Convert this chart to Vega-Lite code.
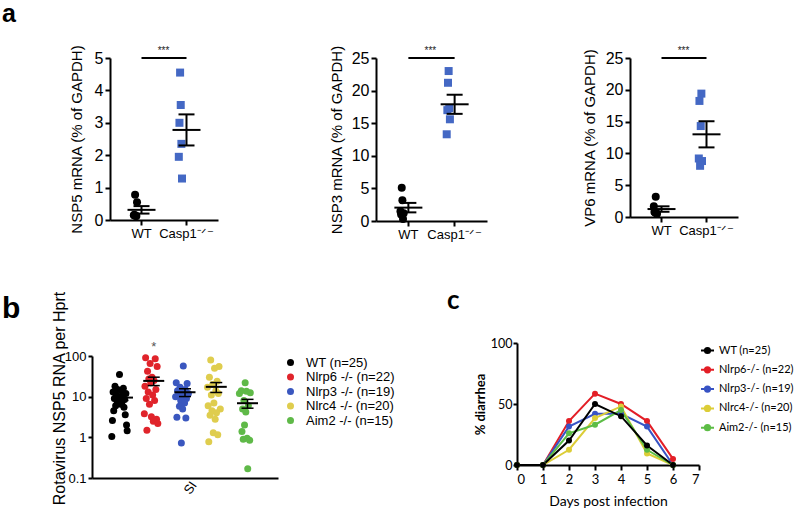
{
"$schema": "https://vega.github.io/schema/vega-lite/v6.json",
"padding": {"left": 2, "top": 2, "right": 0, "bottom": 0},
"config": {
  "view": {"stroke": null},
  "font": "Liberation Sans",
  "axis": {"grid": false, "domainColor": "#000", "domainWidth": 2, "tickColor": "#000", "tickWidth": 2, "tickSize": 5, "labelColor": "#000", "titleColor": "#000", "titleFontWeight": "normal", "labelPadding": 2},
  "title": {"fontWeight": "bold", "color": "#000", "anchor": "start"},
  "legend": {"padding": 0}
},
"datasets": {
  "a1": [
    {"g": "WT", "m": 3, "v": 0.78}, {"g": "WT", "m": 6, "v": 0.55}, {"g": "WT", "m": 1, "v": 0.15}, {"g": "WT", "m": 4, "v": 0.12}, {"g": "WT", "m": 2, "v": 0.16}, {"g": "WT", "m": 5, "v": 0.12},
    {"g": "Casp1", "m": 3, "v": 4.55}, {"g": "Casp1", "m": 4, "v": 3.55}, {"g": "Casp1", "m": 2, "v": 3.0}, {"g": "Casp1", "m": 5, "v": 2.35}, {"g": "Casp1", "m": 1, "v": 1.95}, {"g": "Casp1", "m": 6, "v": 1.28}
  ],
  "a2": [
    {"g": "WT", "m": 3, "v": 5.1}, {"g": "WT", "m": 4, "v": 3.2}, {"g": "WT", "m": 1, "v": 1.5}, {"g": "WT", "m": 6, "v": 1.2}, {"g": "WT", "m": 2, "v": 1.0}, {"g": "WT", "m": 5, "v": 0.3},
    {"g": "Casp1", "m": 4, "v": 23.0}, {"g": "Casp1", "m": 3, "v": 21.2}, {"g": "Casp1", "m": 5, "v": 17.3}, {"g": "Casp1", "m": 2, "v": 17.0}, {"g": "Casp1", "m": 6, "v": 15.6}, {"g": "Casp1", "m": 1, "v": 13.3}
  ],
  "a3": [
    {"g": "WT", "m": 4, "v": 3.2}, {"g": "WT", "m": 1, "v": 1.7}, {"g": "WT", "m": 2, "v": 0.8}, {"g": "WT", "m": 3, "v": 0.7}, {"g": "WT", "m": 5, "v": 0.6}, {"g": "WT", "m": 6, "v": 0.5},
    {"g": "Casp1", "m": 5, "v": 19.4}, {"g": "Casp1", "m": 2, "v": 18.25}, {"g": "Casp1", "m": 4, "v": 14.3}, {"g": "Casp1", "m": 1, "v": 9.2}, {"g": "Casp1", "m": 6, "v": 8.8}, {"g": "Casp1", "m": 3, "v": 8.05}
  ],
  "b": [
    {"g": "WT (n=25)", "m": 13, "v": 35}, {"g": "WT (n=25)", "m": 6, "v": 18}, {"g": "WT (n=25)", "m": 19, "v": 16}, {"g": "WT (n=25)", "m": 10, "v": 15}, {"g": "WT (n=25)", "m": 16, "v": 14},
    {"g": "WT (n=25)", "m": 3, "v": 13}, {"g": "WT (n=25)", "m": 23, "v": 12}, {"g": "WT (n=25)", "m": 8, "v": 11}, {"g": "WT (n=25)", "m": 18, "v": 10.5}, {"g": "WT (n=25)", "m": 12, "v": 10},
    {"g": "WT (n=25)", "m": 14, "v": 9.5}, {"g": "WT (n=25)", "m": 5, "v": 9}, {"g": "WT (n=25)", "m": 21, "v": 8.5}, {"g": "WT (n=25)", "m": 9, "v": 8}, {"g": "WT (n=25)", "m": 17, "v": 7.5},
    {"g": "WT (n=25)", "m": 11, "v": 7}, {"g": "WT (n=25)", "m": 15, "v": 6.5}, {"g": "WT (n=25)", "m": 7, "v": 6}, {"g": "WT (n=25)", "m": 20, "v": 5.5}, {"g": "WT (n=25)", "m": 4, "v": 4.5},
    {"g": "WT (n=25)", "m": 22, "v": 3.6}, {"g": "WT (n=25)", "m": 2, "v": 2.6}, {"g": "WT (n=25)", "m": 24, "v": 2.0}, {"g": "WT (n=25)", "m": 25, "v": 1.45}, {"g": "WT (n=25)", "m": 1, "v": 1.05},
    {"g": "Nlrp6 -/- (n=22)", "m": 5, "v": 90}, {"g": "Nlrp6 -/- (n=22)", "m": 20, "v": 85}, {"g": "Nlrp6 -/- (n=22)", "m": 12, "v": 65}, {"g": "Nlrp6 -/- (n=22)", "m": 23, "v": 55}, {"g": "Nlrp6 -/- (n=22)", "m": 8, "v": 42},
    {"g": "Nlrp6 -/- (n=22)", "m": 15, "v": 30}, {"g": "Nlrp6 -/- (n=22)", "m": 10, "v": 27}, {"g": "Nlrp6 -/- (n=22)", "m": 18, "v": 25}, {"g": "Nlrp6 -/- (n=22)", "m": 13, "v": 22}, {"g": "Nlrp6 -/- (n=22)", "m": 4, "v": 18},
    {"g": "Nlrp6 -/- (n=22)", "m": 21, "v": 15}, {"g": "Nlrp6 -/- (n=22)", "m": 9, "v": 13}, {"g": "Nlrp6 -/- (n=22)", "m": 16, "v": 11}, {"g": "Nlrp6 -/- (n=22)", "m": 6, "v": 9}, {"g": "Nlrp6 -/- (n=22)", "m": 19, "v": 8},
    {"g": "Nlrp6 -/- (n=22)", "m": 11, "v": 6.5}, {"g": "Nlrp6 -/- (n=22)", "m": 3, "v": 3.8}, {"g": "Nlrp6 -/- (n=22)", "m": 14, "v": 3.2}, {"g": "Nlrp6 -/- (n=22)", "m": 22, "v": 2.8}, {"g": "Nlrp6 -/- (n=22)", "m": 17, "v": 2.5},
    {"g": "Nlrp6 -/- (n=22)", "m": 24, "v": 2.2}, {"g": "Nlrp6 -/- (n=22)", "m": 7, "v": 1.5},
    {"g": "Nlrp3 -/- (n=19)", "m": 15, "v": 57}, {"g": "Nlrp3 -/- (n=19)", "m": 4, "v": 22}, {"g": "Nlrp3 -/- (n=19)", "m": 21, "v": 21}, {"g": "Nlrp3 -/- (n=19)", "m": 10, "v": 17}, {"g": "Nlrp3 -/- (n=19)", "m": 18, "v": 15},
    {"g": "Nlrp3 -/- (n=19)", "m": 6, "v": 14}, {"g": "Nlrp3 -/- (n=19)", "m": 13, "v": 13}, {"g": "Nlrp3 -/- (n=19)", "m": 23, "v": 12}, {"g": "Nlrp3 -/- (n=19)", "m": 8, "v": 11}, {"g": "Nlrp3 -/- (n=19)", "m": 16, "v": 10.5},
    {"g": "Nlrp3 -/- (n=19)", "m": 3, "v": 10}, {"g": "Nlrp3 -/- (n=19)", "m": 20, "v": 9}, {"g": "Nlrp3 -/- (n=19)", "m": 11, "v": 8}, {"g": "Nlrp3 -/- (n=19)", "m": 17, "v": 7}, {"g": "Nlrp3 -/- (n=19)", "m": 9, "v": 5.8},
    {"g": "Nlrp3 -/- (n=19)", "m": 14, "v": 5}, {"g": "Nlrp3 -/- (n=19)", "m": 5, "v": 3.1}, {"g": "Nlrp3 -/- (n=19)", "m": 19, "v": 3.0}, {"g": "Nlrp3 -/- (n=19)", "m": 12, "v": 0.73},
    {"g": "Nlrc4 -/- (n=20)", "m": 9, "v": 80}, {"g": "Nlrc4 -/- (n=20)", "m": 22, "v": 55}, {"g": "Nlrc4 -/- (n=20)", "m": 15, "v": 50}, {"g": "Nlrc4 -/- (n=20)", "m": 7, "v": 30}, {"g": "Nlrc4 -/- (n=20)", "m": 19, "v": 24},
    {"g": "Nlrc4 -/- (n=20)", "m": 12, "v": 20}, {"g": "Nlrc4 -/- (n=20)", "m": 4, "v": 17}, {"g": "Nlrc4 -/- (n=20)", "m": 17, "v": 14}, {"g": "Nlrc4 -/- (n=20)", "m": 21, "v": 12}, {"g": "Nlrc4 -/- (n=20)", "m": 10, "v": 11},
    {"g": "Nlrc4 -/- (n=20)", "m": 14, "v": 7}, {"g": "Nlrc4 -/- (n=20)", "m": 5, "v": 6}, {"g": "Nlrc4 -/- (n=20)", "m": 24, "v": 5}, {"g": "Nlrc4 -/- (n=20)", "m": 11, "v": 4.5}, {"g": "Nlrc4 -/- (n=20)", "m": 18, "v": 4},
    {"g": "Nlrc4 -/- (n=20)", "m": 8, "v": 3.5}, {"g": "Nlrc4 -/- (n=20)", "m": 16, "v": 2.8}, {"g": "Nlrc4 -/- (n=20)", "m": 13, "v": 1.3}, {"g": "Nlrc4 -/- (n=20)", "m": 20, "v": 1.15}, {"g": "Nlrc4 -/- (n=20)", "m": 6, "v": 0.78},
    {"g": "Aim2 -/- (n=15)", "m": 14, "v": 22}, {"g": "Aim2 -/- (n=15)", "m": 8, "v": 14}, {"g": "Aim2 -/- (n=15)", "m": 16, "v": 13.5}, {"g": "Aim2 -/- (n=15)", "m": 22, "v": 12.5}, {"g": "Aim2 -/- (n=15)", "m": 5, "v": 12},
    {"g": "Aim2 -/- (n=15)", "m": 12, "v": 8}, {"g": "Aim2 -/- (n=15)", "m": 19, "v": 6}, {"g": "Aim2 -/- (n=15)", "m": 10, "v": 5}, {"g": "Aim2 -/- (n=15)", "m": 15, "v": 4.2}, {"g": "Aim2 -/- (n=15)", "m": 13, "v": 2.0},
    {"g": "Aim2 -/- (n=15)", "m": 9, "v": 1.4}, {"g": "Aim2 -/- (n=15)", "m": 17, "v": 0.95}, {"g": "Aim2 -/- (n=15)", "m": 11, "v": 0.9}, {"g": "Aim2 -/- (n=15)", "m": 21, "v": 0.85}, {"g": "Aim2 -/- (n=15)", "m": 18, "v": 0.17}
  ],
  "c": [
    {"g": "Nlrp6-/- (n=22)", "day": 0, "pct": 0}, {"g": "Nlrp6-/- (n=22)", "day": 1, "pct": 0}, {"g": "Nlrp6-/- (n=22)", "day": 2, "pct": 36}, {"g": "Nlrp6-/- (n=22)", "day": 3, "pct": 58.5}, {"g": "Nlrp6-/- (n=22)", "day": 4, "pct": 50}, {"g": "Nlrp6-/- (n=22)", "day": 5, "pct": 36}, {"g": "Nlrp6-/- (n=22)", "day": 6, "pct": 5},
    {"g": "Nlrp3-/- (n=19)", "day": 0, "pct": 0}, {"g": "Nlrp3-/- (n=19)", "day": 1, "pct": 0}, {"g": "Nlrp3-/- (n=19)", "day": 2, "pct": 31.5}, {"g": "Nlrp3-/- (n=19)", "day": 3, "pct": 42}, {"g": "Nlrp3-/- (n=19)", "day": 4, "pct": 42}, {"g": "Nlrp3-/- (n=19)", "day": 5, "pct": 31.5}, {"g": "Nlrp3-/- (n=19)", "day": 6, "pct": 0},
    {"g": "Nlrc4-/- (n=20)", "day": 0, "pct": 0}, {"g": "Nlrc4-/- (n=20)", "day": 1, "pct": 0}, {"g": "Nlrc4-/- (n=20)", "day": 2, "pct": 12.5}, {"g": "Nlrc4-/- (n=20)", "day": 3, "pct": 38.5}, {"g": "Nlrc4-/- (n=20)", "day": 4, "pct": 48}, {"g": "Nlrc4-/- (n=20)", "day": 5, "pct": 9.5}, {"g": "Nlrc4-/- (n=20)", "day": 6, "pct": 0},
    {"g": "Aim2-/- (n=15)", "day": 0, "pct": 0}, {"g": "Aim2-/- (n=15)", "day": 1, "pct": 0}, {"g": "Aim2-/- (n=15)", "day": 2, "pct": 26}, {"g": "Aim2-/- (n=15)", "day": 3, "pct": 33}, {"g": "Aim2-/- (n=15)", "day": 4, "pct": 45}, {"g": "Aim2-/- (n=15)", "day": 5, "pct": 12.5}, {"g": "Aim2-/- (n=15)", "day": 6, "pct": 0},
    {"g": "WT (n=25)", "day": 0, "pct": 0}, {"g": "WT (n=25)", "day": 1, "pct": 0}, {"g": "WT (n=25)", "day": 2, "pct": 20}, {"g": "WT (n=25)", "day": 3, "pct": 50}, {"g": "WT (n=25)", "day": 4, "pct": 40}, {"g": "WT (n=25)", "day": 5, "pct": 16}, {"g": "WT (n=25)", "day": 6, "pct": 0}
  ]
},
"spacing": 47,
"resolve": {"scale": {"color": "independent", "shape": "independent"}, "legend": {"color": "independent", "shape": "independent"}},
"vconcat": [
  {
    "title": {"text": "a", "fontSize": 25, "frame": "bounds", "dx": -67, "offset": 17, "font": "Liberation Sans"},
    "spacing": -24,
    "hconcat": [
      {"width": 1, "height": 1, "data": {"values": []}, "mark": "point"},
      {
        "spacing": 111,
        "hconcat": [
          {
            "width": 108, "height": 162,
            "data": {"name": "a1"},
            "encoding": {
              "x": {"field": "g", "type": "nominal", "sort": ["WT", "Casp1"], "title": null, "scale": {"domain": ["WT", "Casp1"], "paddingInner": 0.644, "paddingOuter": 0.522},
                    "axis": {"title": null, "labelAngle": 0, "labelFontSize": 13, "labelExpr": "datum.value == 'Casp1' ? 'Casp1⁻ᐟ⁻' : datum.label"}},
              "y": {"field": "v", "type": "quantitative", "title": "NSP5 mRNA (% of GAPDH)", "scale": {"domain": [0, 5], "nice": false},
                    "axis": {"values": [0, 1, 2, 3, 4, 5], "title": "NSP5 mRNA (% of GAPDH)", "labelFontSize": 16, "titleFontSize": 15, "minExtent": 16, "maxExtent": 16, "titlePadding": 10}}
            },
            "layer": [
              {"mark": {"type": "point", "filled": true, "opacity": 1, "size": 64, "strokeWidth": 0},
               "encoding": {
                 "xOffset": {"field": "m", "type": "ordinal"},
                 "color": {"field": "g", "type": "nominal", "scale": {"domain": ["WT", "Casp1"], "range": ["#000000", "#4468c4"]}, "legend": null},
                 "shape": {"field": "g", "type": "nominal", "scale": {"domain": ["WT", "Casp1"], "range": ["circle", "square"]}, "legend": null}
               }},
              {"mark": {"type": "tick", "color": "#000", "opacity": 1, "size": 28, "thickness": 2},
               "encoding": {"y": {"field": "v", "aggregate": "mean", "type": "quantitative", "title": "NSP5 mRNA (% of GAPDH)",
                    "axis": {"values": [0, 1, 2, 3, 4, 5], "title": "NSP5 mRNA (% of GAPDH)", "labelFontSize": 16, "titleFontSize": 15, "minExtent": 16, "maxExtent": 16, "titlePadding": 10}}}},
              {"mark": {"type": "errorbar", "extent": "stderr", "color": "#000", "opacity": 1, "thickness": 2, "ticks": {"size": 16}}},
              {"data": {"values": [{"g": "WT", "g2": "Casp1", "v": 5}]}, "mark": {"type": "rule", "color": "#000", "strokeWidth": 2},
               "encoding": {"x2": {"field": "g2"}}},
              {"data": {"values": [{"g": "WT", "v": 5}]}, "mark": {"type": "text", "text": "***", "fontSize": 10, "dx": 22, "dy": -2, "baseline": "bottom", "color": "#222"}}
            ]
          },
          {
            "spacing": 95,
            "hconcat": [
              {
                "width": 111, "height": 163,
                "data": {"name": "a2"},
                "encoding": {
                  "x": {"field": "g", "type": "nominal", "sort": ["WT", "Casp1"], "title": null, "scale": {"domain": ["WT", "Casp1"], "paddingInner": 0.644, "paddingOuter": 0.522},
                        "axis": {"title": null, "labelAngle": 0, "labelFontSize": 13, "labelExpr": "datum.value == 'Casp1' ? 'Casp1⁻ᐟ⁻' : datum.label"}},
                  "y": {"field": "v", "type": "quantitative", "title": "NSP3 mRNA (% of GAPDH)", "scale": {"domain": [0, 25], "nice": false},
                        "axis": {"values": [0, 5, 10, 15, 20, 25], "title": "NSP3 mRNA (% of GAPDH)", "labelFontSize": 16, "titleFontSize": 15, "minExtent": 24, "maxExtent": 24, "titlePadding": 8}}
                },
                "layer": [
                  {"mark": {"type": "point", "filled": true, "opacity": 1, "size": 64, "strokeWidth": 0},
                   "encoding": {
                     "xOffset": {"field": "m", "type": "ordinal"},
                     "color": {"field": "g", "type": "nominal", "scale": {"domain": ["WT", "Casp1"], "range": ["#000000", "#4468c4"]}, "legend": null},
                     "shape": {"field": "g", "type": "nominal", "scale": {"domain": ["WT", "Casp1"], "range": ["circle", "square"]}, "legend": null}
                   }},
                  {"mark": {"type": "tick", "color": "#000", "opacity": 1, "size": 28, "thickness": 2},
                   "encoding": {"y": {"field": "v", "aggregate": "mean", "type": "quantitative", "title": "NSP3 mRNA (% of GAPDH)",
                        "axis": {"values": [0, 5, 10, 15, 20, 25], "title": "NSP3 mRNA (% of GAPDH)", "labelFontSize": 16, "titleFontSize": 15, "minExtent": 24, "maxExtent": 24, "titlePadding": 8}}}},
                  {"mark": {"type": "errorbar", "extent": "stderr", "color": "#000", "opacity": 1, "thickness": 2, "ticks": {"size": 16}}},
                  {"data": {"values": [{"g": "WT", "g2": "Casp1", "v": 25}]}, "mark": {"type": "rule", "color": "#000", "strokeWidth": 2},
                   "encoding": {"x2": {"field": "g2"}}},
                  {"data": {"values": [{"g": "WT", "v": 25}]}, "mark": {"type": "text", "text": "***", "fontSize": 10, "dx": 22, "dy": -2, "baseline": "bottom", "color": "#222"}}
                ]
              },
              {
                "width": 108, "height": 159,
                "data": {"name": "a3"},
                "encoding": {
                  "x": {"field": "g", "type": "nominal", "sort": ["WT", "Casp1"], "title": null, "scale": {"domain": ["WT", "Casp1"], "paddingInner": 0.644, "paddingOuter": 0.522},
                        "axis": {"title": null, "labelAngle": 0, "labelFontSize": 13, "labelExpr": "datum.value == 'Casp1' ? 'Casp1⁻ᐟ⁻' : datum.label"}},
                  "y": {"field": "v", "type": "quantitative", "title": "VP6 mRNA (% of GAPDH)", "scale": {"domain": [0, 25], "nice": false},
                        "axis": {"values": [0, 5, 10, 15, 20, 25], "title": "VP6 mRNA (% of GAPDH)", "labelFontSize": 16, "titleFontSize": 15, "minExtent": 24, "maxExtent": 24, "titlePadding": 9}}
                },
                "layer": [
                  {"mark": {"type": "point", "filled": true, "opacity": 1, "size": 64, "strokeWidth": 0},
                   "encoding": {
                     "xOffset": {"field": "m", "type": "ordinal"},
                     "color": {"field": "g", "type": "nominal", "scale": {"domain": ["WT", "Casp1"], "range": ["#000000", "#4468c4"]}, "legend": null},
                     "shape": {"field": "g", "type": "nominal", "scale": {"domain": ["WT", "Casp1"], "range": ["circle", "square"]}, "legend": null}
                   }},
                  {"mark": {"type": "tick", "color": "#000", "opacity": 1, "size": 28, "thickness": 2},
                   "encoding": {"y": {"field": "v", "aggregate": "mean", "type": "quantitative", "title": "VP6 mRNA (% of GAPDH)",
                        "axis": {"values": [0, 5, 10, 15, 20, 25], "title": "VP6 mRNA (% of GAPDH)", "labelFontSize": 16, "titleFontSize": 15, "minExtent": 24, "maxExtent": 24, "titlePadding": 9}}}},
                  {"mark": {"type": "errorbar", "extent": "stderr", "color": "#000", "opacity": 1, "thickness": 2, "ticks": {"size": 16}}},
                  {"data": {"values": [{"g": "WT", "g2": "Casp1", "v": 25}]}, "mark": {"type": "rule", "color": "#000", "strokeWidth": 2},
                   "encoding": {"x2": {"field": "g2"}}},
                  {"data": {"values": [{"g": "WT", "v": 25}]}, "mark": {"type": "text", "text": "***", "fontSize": 10, "dx": 22, "dy": -2, "baseline": "bottom", "color": "#222"}}
                ]
              }
            ]
          }
        ]
      }
    ]
  },
  {
    "spacing": 52,
    "resolve": {"scale": {"color": "independent"}, "legend": {"color": "independent"}},
    "hconcat": [
      {
        "spacing": -54,
        "resolve": {"scale": {"color": "independent"}, "legend": {"color": "independent"}},
        "vconcat": [
          {"width": 1, "height": 1, "data": {"values": []}, "mark": "point"},
          {
            "width": 186, "height": 122,
            "title": {"text": "b", "fontSize": 30, "frame": "group", "dx": -90, "offset": -33, "font": "Liberation Sans"},
            "data": {"name": "b"},
            "encoding": {
              "x": {"field": "g", "type": "nominal", "title": "SI", "sort": ["WT (n=25)", "Nlrp6 -/- (n=22)", "Nlrp3 -/- (n=19)", "Nlrc4 -/- (n=20)", "Aim2 -/- (n=15)"],
                    "scale": {"domain": ["WT (n=25)", "Nlrp6 -/- (n=22)", "Nlrp3 -/- (n=19)", "Nlrc4 -/- (n=20)", "Aim2 -/- (n=15)"], "paddingInner": 0.296, "paddingOuter": 0.623},
                    "axis": {"labels": false, "ticks": false, "title": "SI", "titleAngle": -55, "titleFontSize": 13, "titlePadding": 6}},
              "y": {"field": "v", "type": "quantitative", "title": "Rotavirus NSP5 RNA per Hprt", "scale": {"type": "log", "domain": [0.1, 100], "nice": false},
                    "axis": {"values": [0.1, 1, 10, 100], "format": "~g", "title": "Rotavirus NSP5 RNA per Hprt", "labelFontSize": 13, "titleFontSize": 16, "minExtent": 24, "maxExtent": 24, "titlePadding": 1, "tickSize": 4, "titleY": 42}}
            },
            "layer": [
              {"mark": {"type": "point", "filled": true, "opacity": 1, "size": 49, "strokeWidth": 0},
               "encoding": {
                 "xOffset": {"field": "m", "type": "ordinal"},
                 "color": {"field": "g", "type": "nominal", "sort": ["WT (n=25)", "Nlrp6 -/- (n=22)", "Nlrp3 -/- (n=19)", "Nlrc4 -/- (n=20)", "Aim2 -/- (n=15)"],
                           "scale": {"domain": ["WT (n=25)", "Nlrp6 -/- (n=22)", "Nlrp3 -/- (n=19)", "Nlrc4 -/- (n=20)", "Aim2 -/- (n=15)"], "range": ["#000000", "#e0242b", "#3a57bf", "#dfcd4e", "#5fb948"]},
                           "legend": {"title": null, "labelFontSize": 13, "symbolSize": 49, "symbolType": "circle", "offset": 6, "rowPadding": 0.5, "symbolStrokeWidth": 0, "labelOffset": 9}}
               }},
              {"mark": {"type": "tick", "color": "#000", "opacity": 1, "size": 21, "thickness": 2},
               "encoding": {"y": {"field": "v", "aggregate": "mean", "type": "quantitative", "title": "Rotavirus NSP5 RNA per Hprt",
                    "axis": {"values": [0.1, 1, 10, 100], "format": "~g", "title": "Rotavirus NSP5 RNA per Hprt", "labelFontSize": 13, "titleFontSize": 16, "minExtent": 24, "maxExtent": 24, "titlePadding": 1, "tickSize": 4, "titleY": 42}}}},
              {"mark": {"type": "errorbar", "extent": "stderr", "color": "#000", "opacity": 1, "thickness": 1.5, "ticks": {"size": 12}}},
              {"data": {"values": [{"g": "Nlrp6 -/- (n=22)", "v": 100}]}, "mark": {"type": "text", "text": "*", "fontSize": 13, "color": "#555", "dy": -9}}
            ]
          }
        ]
      },
      {
        "name": "pc",
        "width": 182, "height": 122,
        "title": {"text": "c", "fontSize": 26, "frame": "group", "dx": -70, "offset": 23, "font": "Lato"},
        "data": {"name": "c"},
        "mark": {"type": "line", "strokeWidth": 2, "point": {"filled": true, "size": 36, "opacity": 1}},
        "encoding": {
          "x": {"field": "day", "type": "quantitative", "scale": {"domain": [0, 7], "nice": false},
                "axis": {"values": [0, 1, 2, 3, 4, 5, 6, 7], "title": "Days post infection", "titlePadding": 8, "labelFontSize": 13, "labelFont": "Lato", "titleFont": "Lato", "titleFontSize": 14, "labelPadding": 3}},
          "y": {"field": "pct", "type": "quantitative", "scale": {"domain": [0, 100], "nice": false},
                "axis": {"values": [0, 50, 100], "title": "% diarrhea", "titleFontWeight": "bold", "labelFontSize": 12.5, "labelFont": "Lato", "titleFont": "Lato", "titleFontSize": 13, "minExtent": 25, "maxExtent": 25, "titlePadding": 5, "tickSize": 4, "labelPadding": 1}},
          "color": {"field": "g", "type": "nominal", "sort": ["WT (n=25)", "Nlrp6-/- (n=22)", "Nlrp3-/- (n=19)", "Nlrc4-/- (n=20)", "Aim2-/- (n=15)"],
                    "scale": {"domain": ["WT (n=25)", "Nlrp6-/- (n=22)", "Nlrp3-/- (n=19)", "Nlrc4-/- (n=20)", "Aim2-/- (n=15)"], "range": ["#000000", "#e31e26", "#3853c4", "#dccd37", "#5dbd46"]},
                    "legend": {"title": null, "labelFontSize": 11, "labelFont": "Lato", "offset": 1, "rowPadding": 4.3, "symbolSize": 169, "symbolStrokeWidth": 2, "labelOffset": 4,
                               "symbolType": "M-1,0L1,0M-0.4,0A0.4,0.4,0,1,0,0.4,0A0.4,0.4,0,1,0,-0.4,0Z",
                               "encode": {"symbols": {"update": {"fill": {"scale": "pc_color", "field": "value"}}}}}}
        }
      }
    ]
  }
]
}
